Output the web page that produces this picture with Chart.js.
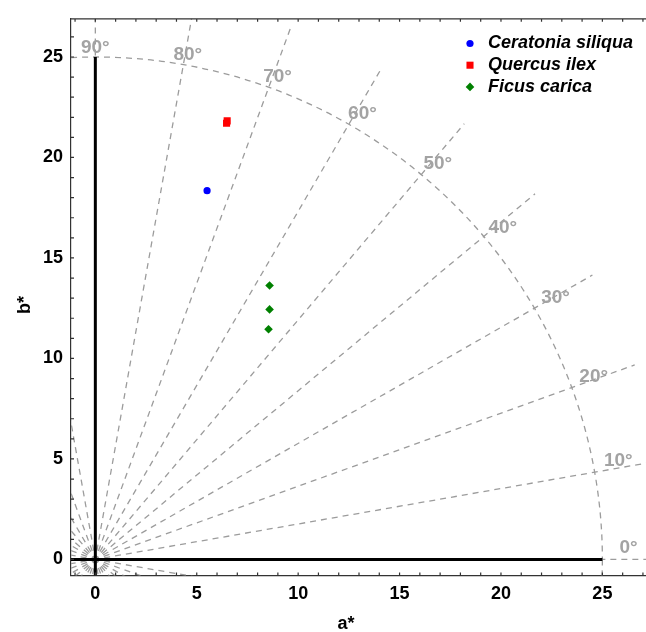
<!DOCTYPE html>
<html>
<head>
<meta charset="utf-8">
<script src="https://cdn.jsdelivr.net/npm/chart.js@4.4.1/dist/chart.umd.min.js"></script>
<style>
html, body { margin: 0; padding: 0; background: #fff; overflow: hidden; }
#wrap { width: 646px; height: 632px; overflow: hidden; }
</style>
</head>
<body>
<div id="wrap"><canvas id="myChart" width="652" height="632" style="width:652px;height:632px"></canvas></div>
<script>
// data
const speciesNames = ["Ceratonia siliqua", "Quercus ilex", "Ficus carica"];
const ceratoniaA = [5.51];
const ceratoniaB = [18.35];
const quercusA = [6.47, 6.50];
const quercusB = [21.70, 21.82];
const ficusA = [8.59, 8.59, 8.54];
const ficusB = [13.63, 12.44, 11.45];

const xTicks = [0, 5, 10, 15, 20, 25];
const yTicks = [0, 5, 10, 15, 20, 25];
const hueAngles = [0, 10, 20, 30, 40, 50, 60, 70, 80, 90];
const hueLabels = ["0°", "10°", "20°", "30°", "40°", "50°", "60°", "70°", "80°", "90°"];
const chromaRadius = 25;
const rayLength = 28.3;

// where the hue labels sit (radius, angle)
const labelAt = [[26.3, 1.3], [26.25, 10.8], [26.2, 20.3], [26.15, 29.8], [26.0, 39.4],
                 [25.95, 49.4], [25.8, 59.3], [25.65, 69.5], [25.5, 79.7], [25.45, 90]];

const FONT = "'Liberation Sans', Arial, sans-serif";

function pts(a, b) {
    return a.map((v, i) => ({x: v, y: b[i]}));
}

const guides = {
    id: 'guides',
    beforeDatasetsDraw(chart) {
        const {ctx, chartArea, scales: {x, y}} = chart;
        const x0 = x.getPixelForValue(0), y0 = y.getPixelForValue(0);
        ctx.save();
        ctx.beginPath();
        ctx.rect(chartArea.left, chartArea.top, chartArea.right - chartArea.left, chartArea.bottom - chartArea.top);
        ctx.clip();

        // hue rays and chroma circle
        ctx.strokeStyle = '#9c9c9c';
        ctx.lineWidth = 1.3;
        ctx.setLineDash([6, 5]);
        ctx.lineDashOffset = 2;
        for (let a = 0; a < 360; a += 10) {
            const t = a * Math.PI / 180;
            ctx.beginPath();
            ctx.moveTo(x0, y0);
            ctx.lineTo(x.getPixelForValue(rayLength * Math.cos(t)), y.getPixelForValue(rayLength * Math.sin(t)));
            ctx.stroke();
        }
        ctx.lineDashOffset = 0;
        const rx = x.getPixelForValue(chromaRadius) - x0;
        const ry = y0 - y.getPixelForValue(chromaRadius);
        ctx.beginPath();
        ctx.ellipse(x0, y0, rx, ry, 0, 0, Math.PI * 2);
        ctx.stroke();

        // a*, b* axes
        ctx.setLineDash([]);
        ctx.strokeStyle = '#000';
        ctx.lineWidth = 3;
        ctx.beginPath();
        ctx.moveTo(x.getPixelForValue(x.min), y0);
        ctx.lineTo(x.getPixelForValue(chromaRadius), y0);
        ctx.moveTo(x0, y.getPixelForValue(y.min));
        ctx.lineTo(x0, y.getPixelForValue(chromaRadius));
        ctx.stroke();

        // hue labels
        ctx.fillStyle = '#a3a3a3';
        ctx.font = 'bold 19px ' + FONT;
        ctx.textAlign = 'center';
        ctx.textBaseline = 'middle';
        hueAngles.forEach((h, i) => {
            const r = labelAt[i][0], t = labelAt[i][1] * Math.PI / 180;
            ctx.fillText(hueLabels[i], x.getPixelForValue(r * Math.cos(t)), y.getPixelForValue(r * Math.sin(t)));
        });
        ctx.restore();
    },
    afterDraw(chart) {
        const {ctx, chartArea, scales: {x, y}} = chart;
        ctx.save();
        // frame top + right, and inward ticks
        ctx.strokeStyle = '#333';
        ctx.lineWidth = 1.2;
        ctx.beginPath();
        ctx.moveTo(chartArea.left, chartArea.top);
        ctx.lineTo(chartArea.right, chartArea.top);
        ctx.lineTo(chartArea.right, chartArea.bottom);
        for (let v = Math.ceil(x.min); v <= x.max; v++) {
            const px = x.getPixelForValue(v);
            ctx.moveTo(px, chartArea.bottom);
            ctx.lineTo(px, chartArea.bottom - 3);
            ctx.moveTo(px, chartArea.top);
            ctx.lineTo(px, chartArea.top + 3);
        }
        for (let v = Math.ceil(y.min); v <= y.max; v++) {
            const py = y.getPixelForValue(v);
            ctx.moveTo(chartArea.left, py);
            ctx.lineTo(chartArea.left + 3, py);
        }
        ctx.stroke();

        // axis titles
        ctx.fillStyle = '#000';
        ctx.font = 'bold 18px ' + FONT;
        ctx.textAlign = 'center';
        ctx.textBaseline = 'middle';
        ctx.fillText('a*', 346, 624);
        ctx.translate(25, 305);
        ctx.rotate(-Math.PI / 2);
        ctx.fillText('b*', 0, 0);
        ctx.restore();

        // legend
        ctx.save();
        ctx.font = 'italic bold 18px ' + FONT;
        ctx.textAlign = 'left';
        ctx.textBaseline = 'middle';
        chart.data.datasets.forEach((ds, i) => {
            const ly = 43.5 + i * 21.7;
            ctx.fillStyle = ds.backgroundColor;
            Chart.helpers.drawPoint(ctx, {pointStyle: ds.pointStyle, radius: ds.pointRadius, borderWidth: 0, rotation: 0}, 470, ly);
            ctx.fillStyle = '#000';
            ctx.fillText(ds.label, 488, ly);
        });
        ctx.restore();
    }
};

const CHART = document.getElementById("myChart");
const myChart = new Chart(CHART, {
    type: 'scatter',
    data: {
        datasets: [
            {label: speciesNames[0], data: pts(ceratoniaA, ceratoniaB), backgroundColor: '#0000ff', pointStyle: 'circle', pointRadius: 3.6, borderWidth: 0},
            {label: speciesNames[1], data: pts(quercusA, quercusB), backgroundColor: '#ff0000', pointStyle: 'rect', pointRadius: 5, borderWidth: 0},
            {label: speciesNames[2], data: pts(ficusA, ficusB), backgroundColor: '#008000', pointStyle: 'rectRot', pointRadius: 4.3, borderWidth: 0}
        ]
    },
    options: {
        responsive: false,
        animation: false,
        layout: {padding: {top: 13.5, right: 2, left: 0, bottom: 0}},
        plugins: {legend: {display: false}, tooltip: {enabled: false}},
        scales: {
            x: {
                type: 'linear', min: -1.2, max: 27.2,
                afterBuildTicks: s => { s.ticks = xTicks.map(v => ({value: v})); },
                afterFit: s => { s.height = 56.5; },
                grid: {display: false, drawTicks: false},
                border: {color: '#333', width: 1.2},
                ticks: {color: '#000', font: {family: FONT, size: 18, weight: 'bold'}, padding: 8, maxRotation: 0}
            },
            y: {
                type: 'linear', min: -0.8, max: 26.9,
                afterBuildTicks: s => { s.ticks = yTicks.map(v => ({value: v})); },
                afterFit: s => { s.width = 71; },
                grid: {display: false, drawTicks: false},
                border: {color: '#333', width: 1.2},
                ticks: {color: '#000', font: {family: FONT, size: 18, weight: 'bold'}, padding: 8}
            }
        }
    },
    plugins: [guides]
});
</script>
</body>
</html>
